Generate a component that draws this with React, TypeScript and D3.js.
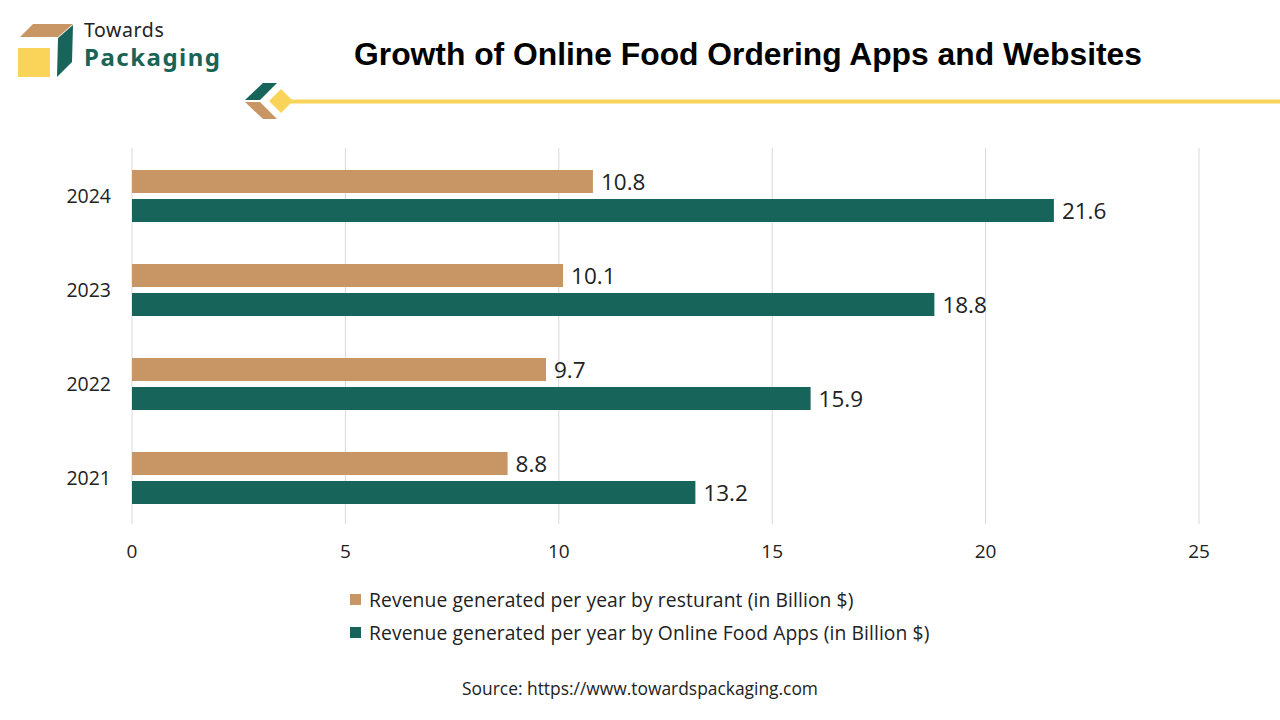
import React from "react";
import * as d3 from "d3";

const years = ["2024", "2023", "2022", "2021"];
const restaurantRevenue = [10.8, 10.1, 9.7, 8.8];
const appRevenue = [21.6, 18.8, 15.9, 13.2];
const xTicks = [0, 5, 10, 15, 20, 25];
const seriesNames = [
  "Revenue generated per year by resturant (in Billion $)",
  "Revenue generated per year by Online Food Apps (in Billion $)",
];
const colors = ["#C89664", "#17645A"];

export default function App() {
  const W = 1280, H = 720;
  const x = d3.scaleLinear().domain([0, 25]).range([132, 1199]);
  const y = d3.scaleBand().domain(years).range([148, 524]);
  const barH = 23;
  const gap = 6;
  const font = "'Open Sans', sans-serif";

  return (
    <svg width={W} height={H} style={{ position: "absolute", left: 0, top: 0, background: "#fff" }}>
      <rect width={W} height={H} fill="#fff" />
      {/* logo */}
      <polygon points="20,37 33,24 73,24 58,37" fill="#C89664" />
      <polygon points="58,38 73,25 72,62 57,77" fill="#17645A" />
      <rect x={18} y={48} width={32} height={29} fill="#F9D458" />
      <text x={84} y={37} fontFamily="'Noto Sans', sans-serif" fontSize={19.5} letterSpacing={0.6} fill="#222">Towards</text>
      <text x={84} y={66} fontFamily="'Noto Sans', sans-serif" fontWeight={700} fontSize={24} letterSpacing={1.5} fill="#1A6455">Packaging</text>
      {/* title */}
      <text x={748} y={65} textAnchor="middle" fontFamily="'Liberation Sans', Arial, sans-serif" fontWeight={700} fontSize={31.8} fill="#000">
        Growth of Online Food Ordering Apps and Websites
      </text>
      {/* decorative */}
      <line x1={288} x2={1280} y1={101.5} y2={101.5} stroke="#F9D458" strokeWidth={4} />
      <polygon points="263,83 277,83 260,100 245,100" fill="#17645A" />
      <polygon points="245,102 260,102 277,119 263,119" fill="#C89664" />
      <polygon points="281,89 293,101 281,113 269,101" fill="#F9D458" />
      {/* grid */}
      {xTicks.map((t) => (
        <g key={t}>
          <line x1={x(t)} x2={x(t)} y1={148} y2={524} stroke="#D9D9D9" strokeWidth={1} />
          <text x={x(t)} y={558} textAnchor="middle" fontFamily={font} fontSize={19} fill="#222">{t}</text>
        </g>
      ))}
      {/* bars */}
      {years.map((yr, i) => {
        const c = (y(yr) as number) + y.bandwidth() / 2 + 1;
        const y1 = c - gap / 2 - barH;
        const y2 = c + gap / 2;
        return (
          <g key={yr}>
            <text x={111} y={c + 7} textAnchor="end" fontFamily={font} fontSize={19.5} fill="#222">{yr}</text>
            <rect x={x(0)} y={y1} width={x(restaurantRevenue[i]) - x(0)} height={barH} fill={colors[0]} />
            <rect x={x(0)} y={y2} width={x(appRevenue[i]) - x(0)} height={barH} fill={colors[1]} />
            <text x={x(restaurantRevenue[i]) + 8} y={y1 + barH / 2 + 8} fontFamily={font} fontSize={22.5} fill="#222">{restaurantRevenue[i]}</text>
            <text x={x(appRevenue[i]) + 8} y={y2 + barH / 2 + 8} fontFamily={font} fontSize={22.5} fill="#222">{appRevenue[i]}</text>
          </g>
        );
      })}
      {/* legend */}
      {seriesNames.map((s, i) => (
        <g key={s}>
          <rect x={350} y={594 + i * 33} width={11} height={11} fill={colors[i]} />
          <text x={369} y={606.5 + i * 33} fontFamily={font} fontSize={19.3} letterSpacing={0.1} fill="#222">{s}</text>
        </g>
      ))}
      <text x={640} y={695} textAnchor="middle" fontFamily={font} fontSize={17.4} fill="#222">Source: https://www.towardspackaging.com</text>
    </svg>
  );
}
